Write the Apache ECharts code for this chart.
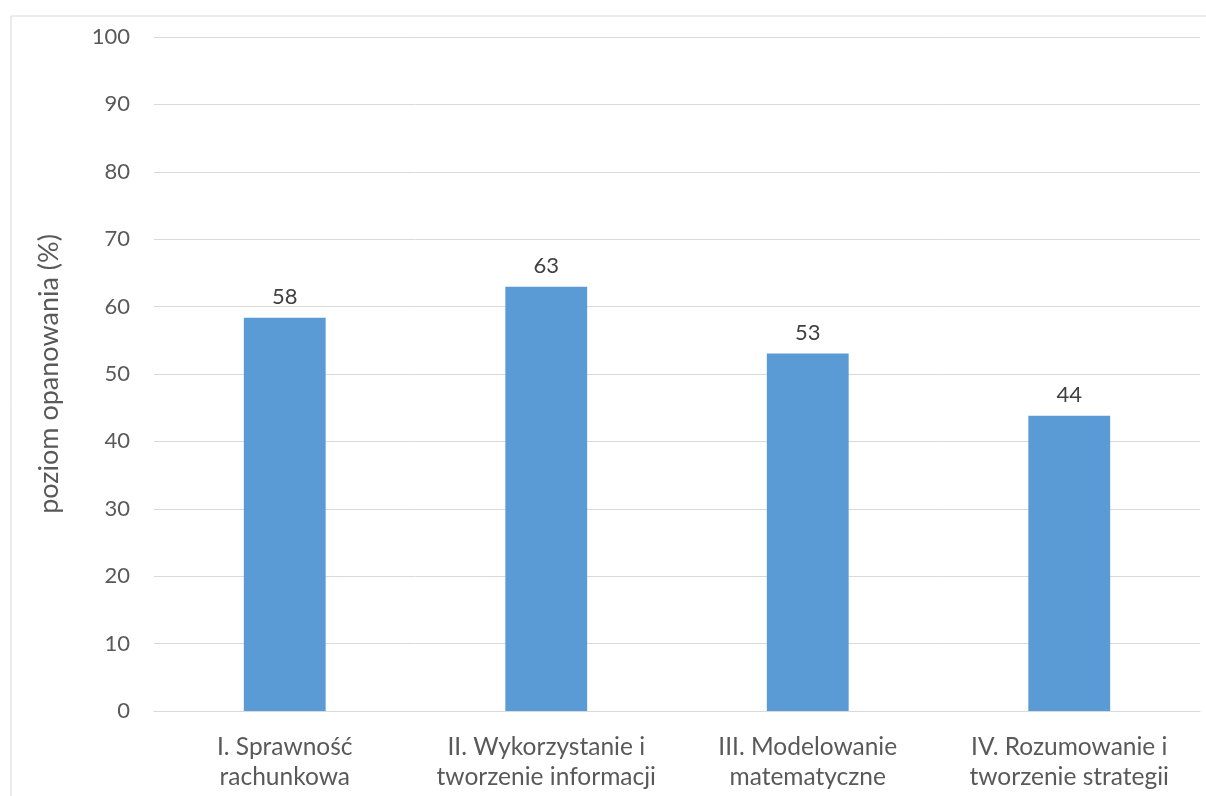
<!DOCTYPE html>
<html>
<head>
<meta charset="utf-8">
<script src="https://cdn.jsdelivr.net/npm/echarts@6/dist/echarts.min.js"></script>
<style>
html,body{margin:0;padding:0;background:#fff;}
#chart{width:1206px;height:796px;}
</style>
</head>
<body>
<div id="chart"></div>
<script>
const categories = [
  'I. Sprawność\nrachunkowa',
  'II. Wykorzystanie i\ntworzenie informacji',
  'III. Modelowanie\nmatematyczne',
  'IV. Rozumowanie i\ntworzenie strategii'
];
const values = [58.35, 62.95, 53.05, 43.8];
const yTicks = [0, 10, 20, 30, 40, 50, 60, 70, 80, 90, 100];
const yTitle = 'poziom opanowania (%)';

const FONT = 'Lato';
const chart = echarts.init(document.getElementById('chart'), null, {renderer: 'canvas'});
chart.setOption({
  animation: false,
  backgroundColor: '#ffffff',
  graphic: [{
    type: 'rect',
    left: 8.5, top: 13.5,
    shape: {width: 1240, height: 820},
    style: {fill: 'none', stroke: '#d9d9d9', lineWidth: 1},
    silent: true
  }],
  grid: {left: 154, right: 6, top: 37, bottom: 85, containLabel: false},
  xAxis: {
    type: 'category',
    data: categories,
    axisLine: {show: true, lineStyle: {color: '#d9d9d9', width: 1}},
    axisTick: {show: false},
    axisLabel: {
      color: '#595959', fontFamily: FONT, fontSize: 24.5, lineHeight: 30,
      margin: 21, interval: 0
    },
    splitLine: {show: false}
  },
  yAxis: {
    type: 'value',
    min: yTicks[0], max: yTicks[yTicks.length - 1], interval: 10,
    name: yTitle,
    nameLocation: 'middle',
    nameGap: 91,
    nameRotate: 90,
    nameTextStyle: {color: '#595959', fontFamily: FONT, fontSize: 27},
    axisLine: {show: false},
    axisTick: {show: false},
    axisLabel: {color: '#595959', fontFamily: FONT, fontSize: 22, margin: 24},
    splitLine: {lineStyle: {color: '#d9d9d9', width: 1}}
  },
  series: [{
    type: 'bar',
    data: values,
    barWidth: '31.3%',
    itemStyle: {color: '#5b9bd5'},
    label: {
      show: true, position: 'top', distance: 10,
      color: '#404040', fontFamily: FONT, fontSize: 22,
      formatter: p => Math.round(p.value)
    }
  }]
});
</script>
</body>
</html>
